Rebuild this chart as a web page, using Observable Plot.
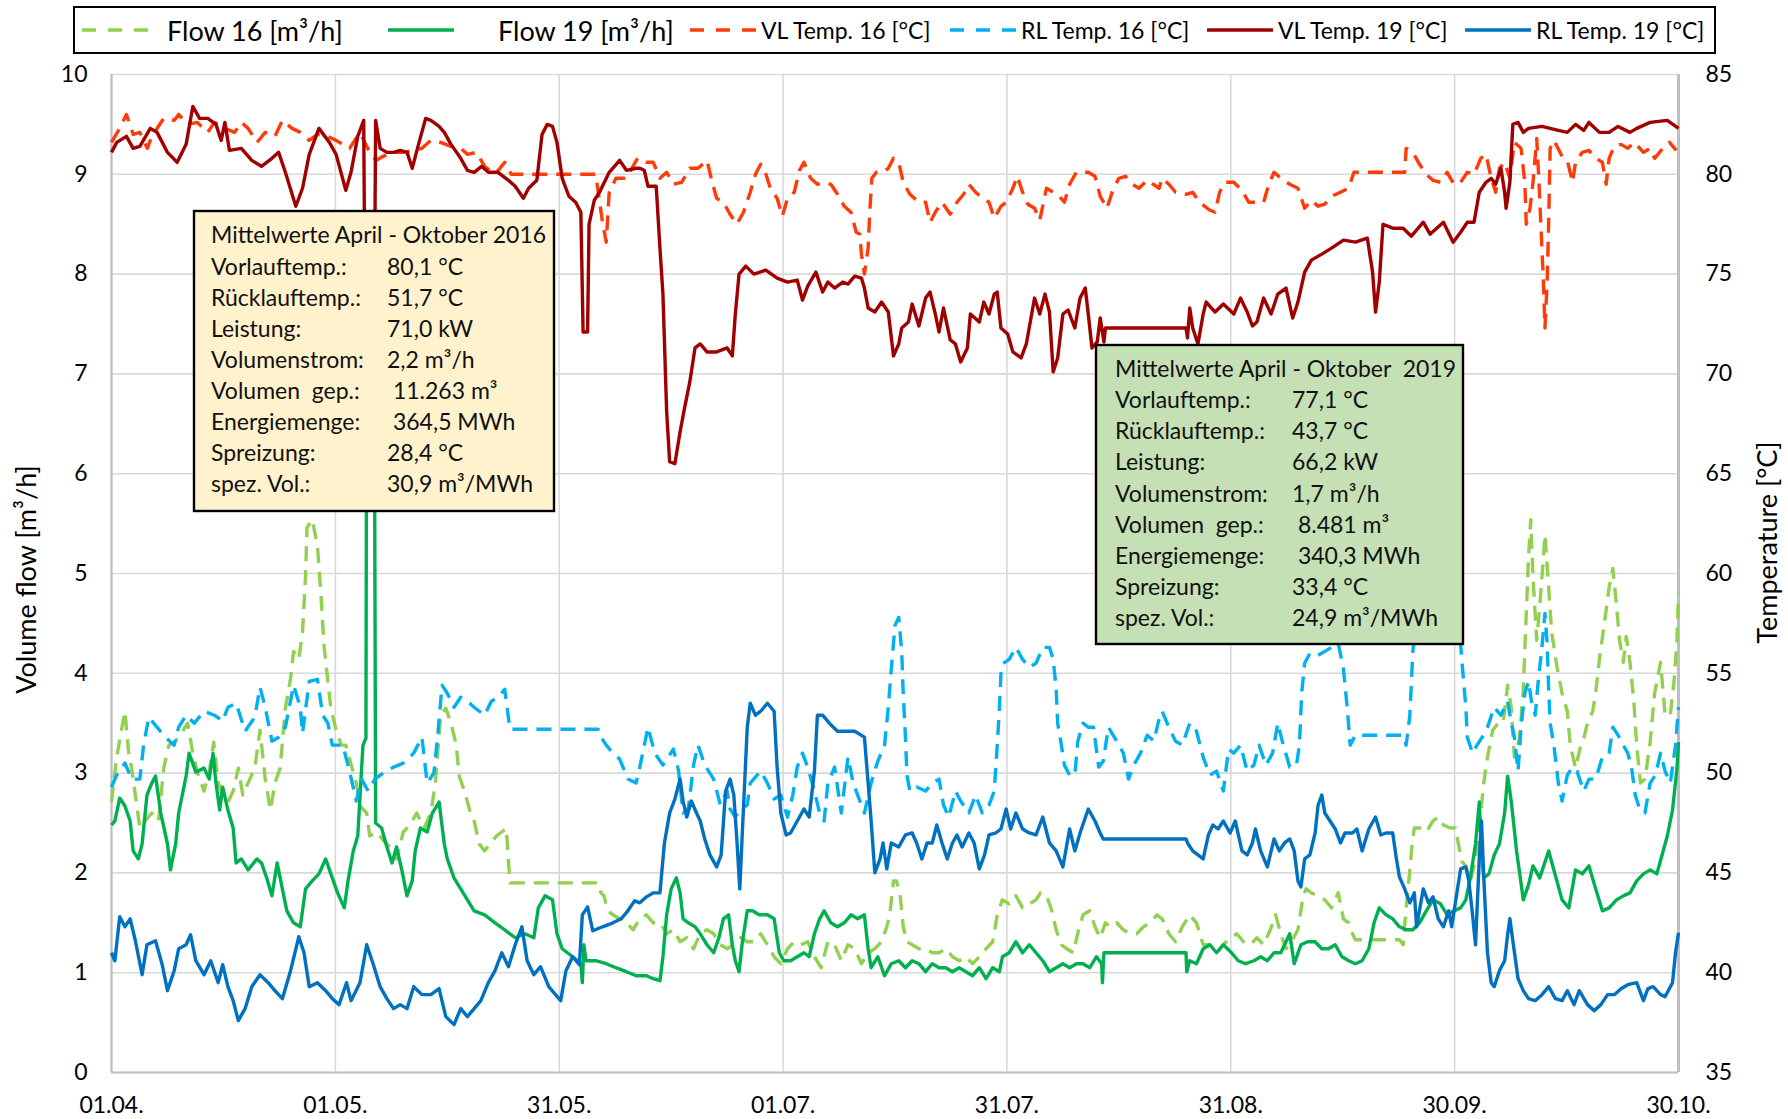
<!DOCTYPE html>
<html><head><meta charset="utf-8">
<script src="https://cdn.jsdelivr.net/npm/d3@7"></script>
<script src="https://cdn.jsdelivr.net/npm/@observablehq/plot@0.6"></script>
<style>
html,body{margin:0;padding:0;background:#fff;}
#wrap{position:relative;width:1788px;height:1119px;overflow:hidden;font-family:Lato,"Liberation Sans",sans-serif;color:#000;}
#legend{position:relative;width:1788px;height:60px;}
#lgframe{position:absolute;left:73px;top:6px;width:1643px;height:48px;border:2px solid #000;box-sizing:border-box;}
.lgitem{position:absolute;top:0;height:60px;display:flex;align-items:center;white-space:pre;}
.lgitem svg{display:block;margin-right:0;}
.axtitle{position:absolute;white-space:pre;transform-origin:center center;}
.note{position:absolute;overflow:visible;}
.note text{font-family:Lato,"Liberation Sans",sans-serif;font-size:23px;fill:#111;white-space:pre;}
</style>
</head><body>
<div id="wrap">
  <div id="legend"><div id="lgframe"></div></div>
  <div id="chart"></div>
</div>
<script>
// ---------------- ticks / labels ----------------
const xTicks = [0, 30, 60, 90, 120, 150, 180, 210];
const xLabels = ["01.04.", "01.05.", "31.05.", "01.07.", "31.07.", "31.08.", "30.09.", "30.10."];
const flowTicks = [0, 1, 2, 3, 4, 5, 6, 7, 8, 9, 10];
const tempTicks = [35, 40, 45, 50, 55, 60, 65, 70, 75, 80, 85];
const leftTitle = "Volume flow [m³/h]";
const rightTitle = "Temperature [°C]";

// ---------------- series (day since 01.04., value) ----------------
const flow16 = [[0,2.71],[0.7,3.16],[1.4,3.46],[1.8,3.62],[2.3,3.2],[2.7,3.05],[3.4,2.67],[3.8,2.45],[4.5,2.52],[5.4,2.6],[6.3,2.52],[7,3.05],[7.7,3.28],[8.4,3.31],[9.3,3.39],[10.2,3.5],[10.9,3.2],[11.5,3.01],[12.4,2.82],[13.1,3.01],[13.7,3.31],[14.3,2.9],[14.9,2.78],[15.6,2.71],[16.3,2.82],[17,3.05],[17.6,2.78],[18.3,2.9],[19.2,3.05],[19.9,3.43],[20.6,2.94],[21.3,2.63],[21.9,2.9],[22.6,3.05],[23.3,3.65],[24,3.95],[24.4,4.22],[25.1,4.14],[25.6,4.41],[26,4.97],[26.2,5.46],[26.9,5.54],[27.6,5.28],[28.1,4.75],[28.5,4.26],[29,3.92],[29.4,3.65],[30.1,3.43],[30.8,3.28],[31.4,3.28],[32.1,3.09],[32.8,2.9],[33.3,2.67],[34.2,2.6],[34.6,2.37],[35.5,2.41],[36.4,2.33],[37.3,2.26],[38.2,2.14],[39.1,2.41],[40,2.48],[40.9,2.6],[41.9,2.45],[42.8,2.6],[43.4,2.9],[44.1,3.58],[44.8,3.65],[45.5,3.5],[46.2,3.28],[46.6,2.97],[47.3,2.82],[48,2.63],[48.6,2.52],[49.3,2.29],[50,2.22],[50.7,2.29],[51.6,2.37],[52.3,2.41],[52.9,2.45],[53.4,1.9],[65.2,1.9],[65.6,1.8],[66,1.77],[66.5,1.62],[67.2,1.58],[68.1,1.54],[69,1.5],[69.9,1.43],[70.8,1.54],[71.7,1.58],[72.6,1.5],[73.5,1.5],[74.4,1.39],[75.3,1.43],[76.2,1.31],[77.1,1.35],[78,1.24],[78.9,1.39],[79.8,1.43],[80.7,1.39],[81.6,1.28],[82.5,1.24],[83.4,1.28],[84.3,1.35],[85.2,1.31],[86.1,1.31],[87,1.39],[87.9,1.28],[88.8,1.16],[89.7,1.09],[90.6,1.24],[91.5,1.31],[92.4,1.28],[93.3,1.31],[94.2,1.16],[95.1,1.05],[96,1.31],[96.9,1.28],[97.8,1.12],[98.7,1.28],[99.6,1.24],[100.5,1.09],[101.4,1.2],[102.3,1.24],[103.2,1.31],[103.9,1.46],[104.3,1.58],[104.8,1.92],[105.2,1.92],[105.7,1.77],[106.1,1.46],[106.6,1.31],[107.3,1.28],[108.2,1.24],[109.1,1.24],[110,1.2],[110.9,1.2],[111.8,1.24],[112.7,1.16],[113.6,1.12],[114.5,1.16],[115.4,1.09],[116.3,1.16],[117.2,1.24],[118.1,1.31],[118.7,1.58],[119.4,1.73],[120.3,1.69],[121.2,1.77],[122.1,1.65],[123,1.69],[123.9,1.73],[124.5,1.8],[125.3,1.77],[125.9,1.65],[126.6,1.43],[127.3,1.28],[128,1.24],[128.9,1.2],[129.6,1.43],[130.2,1.58],[131.1,1.62],[131.8,1.46],[132.5,1.35],[133.2,1.5],[133.8,1.46],[134.7,1.5],[135.6,1.43],[136.5,1.39],[137.4,1.39],[138.3,1.46],[139.2,1.5],[140.1,1.58],[140.8,1.54],[141.7,1.39],[142.6,1.31],[143.5,1.46],[144.5,1.58],[145.4,1.5],[146.3,1.28],[147.2,1.28],[148.1,1.2],[149,1.28],[149.9,1.35],[150.8,1.39],[151.7,1.31],[152.6,1.28],[153.5,1.35],[154.4,1.28],[155.3,1.43],[156,1.58],[156.7,1.39],[157.4,1.24],[158.1,1.31],[159,1.43],[159.7,1.77],[160.1,1.84],[160.8,1.8],[161.7,1.77],[162.6,1.73],[163.5,1.65],[164.4,1.8],[165.1,1.54],[165.8,1.5],[166.3,1.39],[166.7,1.33],[172.6,1.33],[173.1,1.28],[173.5,1.65],[174,2.03],[174.3,2.29],[174.6,2.45],[175.3,2.45],[176.2,2.41],[177.1,2.52],[177.8,2.56],[178.5,2.48],[179.4,2.45],[180.1,2.45],[180.5,2.29],[181,2.11],[181.5,2.07],[182.1,1.92],[182.8,2.14],[183.5,2.6],[183.9,2.9],[184.4,3.16],[185.1,3.43],[185.8,3.5],[186.5,3.5],[187.1,3.88],[187.6,3.65],[188,3.16],[188.7,3.35],[189.2,3.84],[189.6,4.6],[189.9,5.16],[190.2,5.54],[190.5,4.97],[191,4.33],[191.4,4.67],[191.9,5.16],[192.1,5.39],[192.6,4.86],[193,4.41],[193.7,4.07],[194.4,3.8],[195.1,3.62],[195.5,3.28],[196.2,3.05],[196.9,3.28],[197.3,3.35],[197.8,3.5],[198.5,3.62],[198.9,3.8],[199.4,4.14],[200.1,4.52],[200.7,4.86],[201.2,5.05],[201.7,4.67],[202.1,4.33],[202.6,4.11],[203,4.37],[203.5,4.11],[204,3.73],[204.4,3.28],[204.9,2.9],[205.5,2.94],[206.2,3.31],[206.8,3.8],[207.6,4.11],[208.2,3.58],[208.9,3.58],[209.4,3.92],[209.8,4.33],[210,4.8]];

const flow19 = [[0,2.48],[0.45,2.52],[1.1,2.75],[1.8,2.67],[2.5,2.52],[2.9,2.22],[3.6,2.14],[4.1,2.29],[4.75,2.78],[5.4,2.9],[5.9,2.97],[6.6,2.6],[7.5,2.29],[7.9,2.03],[8.6,2.29],[9,2.6],[10,2.97],[10.4,3.2],[11.3,3.01],[12.4,3.05],[13.1,2.94],[13.6,3.2],[14,2.9],[14.5,2.63],[14.9,2.86],[15.6,2.63],[16.3,2.45],[16.7,2.1],[17.4,2.14],[18.3,2.03],[19.5,2.14],[20.1,2.1],[20.8,1.95],[21.5,1.77],[22.2,2.1],[22.9,1.84],[23.5,1.62],[24.4,1.5],[25.3,1.46],[26,1.84],[26.9,1.92],[27.8,1.99],[28.7,2.14],[29.4,1.99],[30.3,1.8],[31.2,1.65],[31.7,1.92],[32.4,2.22],[33,2.37],[33.7,3.28],[34.1,3.35],[34.2,7.5],[35.2,7.5],[35.4,2.5],[36.2,2.45],[36.9,2.26],[37.6,2.1],[38.2,2.26],[38.9,2.03],[39.6,1.77],[40.3,1.92],[40.7,2.22],[41.4,2.45],[42.3,2.41],[43,2.6],[43.9,2.71],[44.6,2.29],[45,2.14],[45.9,1.95],[46.8,1.84],[47.7,1.73],[48.6,1.62],[50,1.58],[51.4,1.5],[52.7,1.43],[54.1,1.35],[55.4,1.39],[56.6,1.35],[57.2,1.65],[58.1,1.77],[59.1,1.73],[59.7,1.39],[60.4,1.24],[61.8,1.16],[62.9,1.09],[63.1,0.9],[63.3,1.28],[63.6,1.12],[64.9,1.12],[66.3,1.09],[67.6,1.05],[69,1.01],[70.3,0.97],[70.8,0.97],[71.7,0.97],[72.6,0.94],[73.5,0.92],[73.9,1.16],[74.4,1.58],[75,1.84],[75.7,1.95],[76.2,1.8],[76.6,1.54],[77.3,1.5],[78.2,1.46],[78.9,1.39],[79.8,1.28],[80.7,1.2],[81.4,1.35],[82,1.54],[82.7,1.58],[83.2,1.28],[83.6,1.12],[84.1,1.01],[84.5,1.28],[85.2,1.62],[85.9,1.62],[86.8,1.58],[87.9,1.58],[88.8,1.54],[89.5,1.2],[90.1,1.12],[91,1.12],[91.9,1.16],[92.8,1.2],[93.5,1.16],[94.2,1.39],[94.9,1.54],[95.5,1.62],[96.4,1.5],[97.3,1.46],[98.2,1.5],[99.1,1.58],[100,1.54],[100.9,1.58],[101.4,1.24],[101.8,1.05],[102.7,1.16],[103.6,0.97],[104.5,1.09],[105.5,1.12],[106.4,1.05],[107.3,1.12],[108.2,1.09],[109.1,1.01],[110,1.09],[110.9,1.05],[111.8,1.05],[112.7,1.01],[113.6,1.05],[114.5,1.01],[115.4,0.97],[116.3,1.05],[117.2,0.94],[118.1,1.05],[119,1.01],[119.4,1.16],[120.3,1.2],[121.2,1.31],[122.1,1.2],[123,1.28],[123.9,1.2],[124.8,1.12],[125.7,1.01],[126.6,1.05],[127.5,1.09],[128.4,1.05],[129.3,1.09],[130.2,1.09],[131.1,1.05],[132,1.16],[132.7,1.09],[132.8,0.9],[133,1.2],[144,1.2],[144.1,1.01],[144.5,1.12],[145.4,1.09],[146.3,1.24],[147.2,1.28],[148.1,1.2],[149,1.28],[150.1,1.2],[151,1.12],[152,1.09],[153.1,1.12],[154,1.16],[154.9,1.12],[155.8,1.2],[156.7,1.2],[157.9,1.39],[158.5,1.09],[159.4,1.28],[160.3,1.31],[161.3,1.31],[162.2,1.24],[163.1,1.24],[164,1.28],[164.9,1.16],[165.8,1.12],[166.7,1.09],[167.6,1.12],[168.5,1.24],[169.2,1.5],[169.9,1.65],[170.8,1.58],[171.7,1.54],[172.6,1.46],[173.5,1.43],[174.4,1.43],[175.3,1.5],[176.2,1.62],[177.1,1.73],[178.1,1.69],[179,1.58],[179.9,1.62],[180.8,1.65],[181.5,1.73],[182.1,1.95],[182.8,2.29],[183.3,2.71],[183.6,2.22],[183.9,1.95],[184.6,1.99],[185.3,2.18],[186,2.29],[186.7,2.6],[187.1,2.97],[187.6,2.71],[188.3,2.22],[189.2,1.73],[189.9,1.88],[190.5,2.07],[191.4,1.95],[192.6,2.22],[193.7,1.92],[194.4,1.73],[195.3,1.65],[196.2,2.03],[197.1,1.99],[198,2.07],[198.9,1.84],[199.8,1.62],[200.7,1.65],[201.7,1.73],[202.6,1.77],[203.5,1.8],[204.4,1.92],[205.3,1.99],[206.2,2.03],[207.1,1.99],[207.8,2.18],[208.5,2.37],[209.2,2.63],[209.8,3.05],[210,3.31]];

const vlTemp16 = [[0,81.6],[1.1,82.3],[2,83],[2.9,82],[3.8,82.1],[4.8,81.3],[5.4,81.9],[7,82.8],[8.4,82.7],[9,83],[10.2,82.5],[11.5,82.6],[12.9,82.1],[13.8,82.6],[15.2,82.3],[16.5,82.1],[17.4,82.6],[18.3,82.3],[19.5,81.6],[20.6,82.1],[21.9,81.9],[22.9,82.7],[24.2,82.3],[25.3,82.1],[26.5,81.7],[27.6,82],[29,81.9],[30.1,81.7],[31.9,81.3],[33.3,82.1],[34.6,81.1],[35.5,80.7],[36.4,80.9],[37.8,81.1],[39.1,81.1],[40.5,81.2],[41.6,81.3],[42.8,81.7],[44.1,81.6],[45.5,81.4],[46.8,81.3],[47.7,81],[48.9,81.1],[50,80.4],[51.4,80],[52.7,80.6],[53.6,80],[55,80],[64.9,80],[65.8,77.6],[66.3,76.6],[66.7,79.1],[67.6,79.8],[69,79.8],[70.5,80.8],[71.7,80.6],[72.6,80.6],[73.5,79.8],[74.4,80.1],[75.3,79.5],[76.4,79.6],[77.5,80.3],[78.6,80.3],[79.8,80.7],[80.5,79.6],[81.1,78.8],[82,78.6],[82.9,78],[83.8,77.5],[84.7,78.1],[85.6,79.1],[86.3,80],[87,80.5],[87.7,80],[88.3,79.3],[89.2,78.8],[89.9,77.9],[90.6,78.8],[91.5,79.1],[92.2,80.2],[92.8,80.6],[93.7,79.8],[94.6,79.5],[95.5,79.6],[96.4,79.5],[97.3,79],[98.2,78.4],[99.1,78.1],[99.8,77.1],[100.3,77],[100.5,76],[100.9,75],[101.4,76.3],[101.6,78],[101.9,79.8],[102.5,80.1],[103.4,80.1],[104.1,80.3],[104.8,80.8],[105.5,80.6],[106.1,79.6],[107,79],[108.2,78.6],[109.1,78.6],[109.7,77.6],[110.4,78.1],[111.3,78.6],[112.4,78],[113.3,78.6],[114.2,79],[114.9,79.5],[115.8,79.1],[116.7,78.8],[117.6,78.6],[118.3,77.8],[119.2,78.4],[119.9,78.6],[120.8,79.3],[121.4,79.9],[122.1,79.1],[122.8,78.5],[123.7,78.3],[124.4,77.7],[125.3,79.3],[126.2,79.1],[126.8,79],[127.7,78.6],[128.4,79.5],[129.3,80.1],[130.2,80.1],[130.9,80.1],[131.8,79.9],[132.5,78.9],[133.4,78.3],[134.1,79.1],[135,79.8],[135.9,79.9],[136.8,79.5],[137.7,79.3],[138.8,79.7],[140.4,79.3],[140.8,79.8],[141.7,79.5],[142.6,79.1],[144,79],[144.9,79.1],[145.8,78.6],[147.2,78.2],[147.9,78.1],[148.5,79.1],[149.2,79.6],[150.4,79.6],[151.5,79.2],[152.4,78.6],[153.5,78.6],[154.4,78.6],[155.1,79.5],[155.8,80.1],[156.7,79.8],[157.9,79.5],[159,79.3],[159.9,78.3],[160.8,78.7],[161.7,78.4],[162.6,78.5],[163.5,78.9],[164.7,79.1],[165.8,79.3],[166.5,80.1],[173.3,80.1],[173.5,81.3],[174.4,81.1],[175.3,80.5],[176.2,80],[177.1,79.7],[178.1,79.6],[179,80.1],[179.9,79.5],[180.8,79.6],[181.7,80.1],[182.6,80],[183.5,80.8],[184.2,81],[184.9,79.8],[185.5,79.1],[186,80.3],[186.7,80.6],[187.4,79.8],[188,81.6],[188.9,81.3],[189.4,79.6],[189.6,77.5],[190.1,78.3],[190.5,79.6],[191,81.8],[191.3,79.6],[191.6,77.1],[191.9,74.6],[192.1,72.3],[192.4,74.6],[192.6,77.6],[192.8,81.3],[193.3,81.7],[194.4,80.9],[195.1,80.7],[195.8,79.6],[196.2,80.6],[197.1,81.1],[198,81.2],[198.9,80.8],[199.8,80.6],[200.3,79.5],[200.7,80.8],[201.4,81.4],[202.3,81.5],[203.2,81.3],[204.1,81.6],[205.3,81.1],[206.2,81.3],[206.8,80.8],[207.9,81.3],[208.8,81.6],[209.7,81.2]];

const rlTemp16 = [[0,49.3],[0.7,49.9],[1.8,50.5],[2.7,49.7],[3.8,49.7],[4.3,51.4],[5,52.8],[6.1,52.3],[7.2,51.8],[8.4,51.4],[9,52.3],[10,52.9],[11.1,52.5],[12.4,53.1],[13.8,52.9],[14.9,52.6],[15.6,53.3],[16.7,53.5],[17.9,52.1],[19.2,52.8],[19.9,54.3],[20.6,53.3],[21.5,51.6],[22.4,51.8],[23.3,52.3],[24.4,54.4],[25.3,53.3],[25.6,52],[26.5,54.6],[27.6,54.7],[28.3,52.9],[29,52.5],[29.6,51.4],[31,51.4],[31.9,50.1],[32.8,48.6],[33.5,49.7],[34.4,49.1],[35.3,49.7],[36.4,50],[37.8,50.3],[39.1,50.5],[40.5,51],[41.6,51.8],[42.3,49.5],[43.2,50],[43.7,51.8],[44.3,54.4],[45,54],[45.9,53.3],[46.8,53.8],[47.7,53.6],[48.6,53.3],[50,52.9],[50.9,53.6],[51.8,53.8],[52.7,54.2],[53.4,52.2],[65.2,52.2],[65.6,51.8],[66.3,51.4],[67.2,51],[68.1,50.7],[69.2,49.7],[70.3,49.5],[70.8,50.3],[71.9,52.3],[72.8,51],[73.9,50.4],[75.3,51.2],[76,50.1],[76.6,48],[77.3,48.2],[78,50.4],[78.6,51.4],[79.5,50.4],[80.7,49.7],[81.6,48.4],[82.5,49.1],[82.9,48.2],[83.6,47.8],[84.3,48.2],[85.2,48.4],[85.6,49.5],[87,50.1],[87.9,49.5],[88.8,48.7],[89.7,48.9],[90.6,47.8],[91.3,48.9],[91.9,50.3],[92.6,51],[93.3,50.3],[94.2,49.1],[94.9,48],[95.5,47.6],[96,49.5],[96.9,50.3],[97.8,48],[98.7,50.8],[99.4,49.5],[100,48.9],[100.9,48],[101.8,49.5],[102.7,50.6],[103.6,51.4],[104.1,53.3],[104.5,55.2],[105,57.4],[105.5,57.8],[105.9,56.1],[106.1,54],[106.4,51.8],[106.6,49.9],[107,49.1],[107.9,49.3],[109.1,49.1],[110,49.5],[110.9,49.7],[111.5,48.4],[112.2,47.8],[113.1,49.1],[113.8,48.6],[114.9,48],[115.8,48.9],[116.7,48],[117.6,48.4],[118.3,49.1],[118.7,51.4],[119,53.3],[119.2,55],[119.5,55.5],[120.3,55.7],[121.2,56.3],[122.1,55.7],[123,55.3],[123.9,55.5],[124.8,56.3],[125.7,56.3],[126.2,55.7],[126.6,54.2],[126.8,52.5],[127.3,51.4],[127.7,50.4],[128.4,49.9],[129.1,49.9],[129.5,51.6],[130.2,52.5],[130.9,52.3],[131.6,52.3],[132.3,50.3],[132.9,50.6],[133.6,52.3],[134.7,51.6],[135.6,51],[136.3,49.7],[137,50.4],[137.9,51],[138.8,51.9],[139.7,51.6],[140.5,52.9],[140.8,53.1],[141.7,52.3],[142.6,51.6],[143.5,51.4],[144.5,52.5],[145.4,52.1],[146.3,50.8],[147.2,49.9],[148.1,50.1],[149,49.1],[149.7,51.2],[150.4,51],[151.3,51.4],[152.2,50.1],[153.1,50.4],[153.8,51.4],[154.7,50.4],[155.6,51],[156.3,52.5],[156.9,51.6],[157.9,50.3],[158.8,50.4],[159.2,51.4],[159.5,54],[159.9,55.5],[160.6,56],[161.7,55.9],[162.6,56.1],[163.5,56.3],[164.4,56.5],[165.1,55.2],[165.6,53.3],[166,51.4],[166.7,51.9],[173.1,51.9],[173.5,51.4],[174,52.9],[174.4,56.1],[175,58.5],[178.5,58.5],[180.5,58],[181,55.5],[181.5,53.3],[181.7,51.8],[182.4,51],[183,51.4],[183.7,51.8],[184.4,52.3],[185.3,53.3],[186.2,52.9],[187.1,53.6],[187.6,52.5],[188,51.8],[188.5,50.1],[188.9,52.3],[189.4,54],[189.9,54.6],[190.3,53.6],[190.8,52.9],[191.2,54.6],[191.7,56.3],[192.1,58],[192.4,56.5],[192.6,54.2],[192.8,52.5],[193.3,51.4],[193.9,49.5],[194.4,48.6],[195.1,49.9],[195.8,50.3],[196.4,50.1],[197.3,49.1],[198,49.7],[198.9,49.7],[199.8,50.8],[200.7,51],[201.2,52.3],[201.9,51.9],[202.6,51.4],[203.2,51],[203.7,50.3],[204.2,48.9],[204.8,48.2],[205.5,48],[206.2,49.5],[206.9,49.9],[207.6,51],[208.2,50.1],[208.9,49.5],[209.6,51.4],[210,53.3]];

const vlTemp19 = [[0,81.1],[0.7,81.6],[2,81.9],[2.9,81.3],[3.8,81.4],[5.2,82.3],[6.1,82.1],[7.5,81.1],[8.8,80.6],[10,81.5],[10.9,83.4],[11.8,82.8],[12.9,82.8],[14,82.5],[14.7,81.7],[15.2,82.6],[15.8,81.2],[17.4,81.3],[18.8,80.7],[20.1,80.4],[21.5,80.8],[22.4,81.1],[23.3,80.1],[24.7,78.4],[25.6,79.3],[26.5,81],[27.8,82.3],[29.2,81.6],[30.1,81],[31.4,79.2],[32.1,80.1],[33,81.9],[33.8,82.7],[34.1,66],[35.1,66],[35.4,82.7],[36,81.3],[36.9,81.1],[37.8,81.1],[38.7,81.2],[39.6,81.1],[40.3,80.3],[41,81.3],[42.1,82.8],[42.8,82.7],[43.9,82.4],[44.6,82.1],[45.5,81.5],[46.8,80.8],[47.7,80.2],[48.6,80.1],[49.6,80.4],[50.5,80.1],[51.8,80.1],[53.2,79.7],[54.1,79.4],[55.2,78.8],[55.9,79.3],[57,79.7],[57.7,82],[58.4,82.5],[59.1,82.4],[59.7,81.6],[60.4,79.8],[61.3,78.9],[62.2,78.6],[62.9,78.1],[63.2,72.1],[63.8,72.1],[64,77.5],[64.7,78.7],[65.4,79.1],[66.7,80.1],[68.1,80.7],[69,80.2],[70.3,80.3],[70.8,80.3],[71.4,80.2],[71.9,79.4],[73,79.4],[73.5,76.3],[73.9,74],[74.4,68.1],[74.8,65.6],[75.5,65.5],[76.2,67.1],[76.8,68.3],[77.5,69.6],[78.2,71.3],[78.9,71.5],[79.8,71.1],[81.1,71.1],[82.5,71.3],[83.2,70.9],[83.6,73],[84.1,75],[85,75.4],[86.1,75],[87.7,75.2],[89.2,74.8],[90.6,74.6],[91.9,74.7],[92.6,73.7],[93.3,74.4],[94.4,75.1],[95.3,74.1],[96,74.6],[96.9,74.3],[98,74.6],[98.7,74.5],[99.6,74.9],[100.5,74.8],[100.9,74.3],[101.4,73.3],[102.3,73.1],[103.2,73.6],[104.1,73.1],[104.8,70.9],[105.5,71.5],[105.9,72.3],[106.8,72.6],[107.3,73.5],[108.2,72.4],[109.1,73.8],[109.7,74.1],[110.4,73],[110.9,72.1],[111.5,73.3],[112.4,71.7],[113.1,71.5],[113.8,70.6],[114.7,71.3],[115.1,73],[116.3,72.6],[116.9,73.6],[117.6,73],[118.3,74],[118.7,74.1],[119.2,72.3],[120.1,72],[120.8,71.1],[121.9,70.8],[122.6,71.5],[123.7,73.8],[124.4,73],[125.1,74],[125.7,73.1],[126.2,70.1],[126.8,70.8],[127.5,73],[128.2,73.2],[129.1,72.3],[129.8,73.8],[130.5,74.3],[130.9,73],[131.4,71.3],[132.1,71.6],[132.5,72.8],[133,71.6],[133.2,72.3],[144,72.3],[144.2,71.8],[144.5,73.3],[144.9,72.3],[145.6,71.5],[146.3,73],[146.7,73.6],[147.9,73.1],[149,73.5],[150.4,73],[151.3,73.8],[152.2,73.1],[152.9,72.4],[153.5,72.6],[154.4,73.8],[155.4,73],[156.3,74],[157.4,74.3],[158.3,72.8],[159,73.6],[159.9,75.1],[160.8,75.7],[162.2,76],[163.5,76.3],[165.1,76.7],[166.7,76.6],[168.3,76.8],[169,75.1],[169.4,73.1],[169.9,74.6],[170.4,77.5],[171.7,77.3],[173.1,77.3],[174.2,76.9],[175.8,77.6],[176.7,77],[178.5,77.6],[179.8,76.6],[180.8,77.1],[181.7,77.6],[182.6,77.6],[183.3,79.1],[184.2,79.6],[184.9,79.8],[185.5,79.5],[186.2,80.3],[186.7,79.1],[186.9,78.3],[187.4,79.6],[187.8,82.5],[188.5,82.6],[189.2,82.1],[189.9,82.3],[191.7,82.4],[193.9,82.2],[195.1,82.1],[196.2,82.5],[197.3,82.2],[198,82.6],[199.4,82.1],[200.7,82.1],[201.9,82.4],[203.5,82.1],[204.4,82.3],[206.2,82.6],[208.5,82.7],[210,82.3]];

const rlTemp19 = [[0,41],[0.45,40.6],[1.1,42.8],[1.8,42.3],[2.5,42.7],[3.2,41.6],[4.1,39.9],[4.75,41.4],[5.9,41.6],[6.8,40.4],[7.5,39.1],[8.4,40.1],[9,41.2],[10,41.4],[10.6,41.9],[11.3,40.6],[12.4,39.9],[13.3,40.6],[14.3,39.5],[14.9,40.4],[15.6,39.3],[16.3,38.6],[17,37.6],[17.9,38.2],[18.8,39.3],[19.9,39.9],[21,39.5],[21.9,39.1],[22.9,38.7],[24,40.1],[25.1,41.8],[25.8,41],[26.5,39.3],[27.6,39.5],[28.7,39.1],[29.6,38.7],[30.5,38.4],[31.5,39.5],[32.1,38.6],[33.3,39.5],[34.2,41.4],[35.1,40.4],[36,39.3],[36.9,38.7],[37.8,38.2],[38.7,38.4],[39.6,38.2],[40.5,39.3],[41.6,38.9],[42.8,38.9],[43.9,39.2],[44.8,37.8],[45.9,37.4],[46.8,38.2],[47.7,37.8],[48.6,38.2],[49.5,38.6],[50.5,39.5],[51.4,40.1],[52.3,41],[53.2,40.3],[54.1,41.4],[55,42.3],[55.7,40.6],[56.6,39.9],[57.5,40.3],[58.6,39.3],[59.5,38.9],[60.2,38.6],[60.9,40.1],[61.8,40.8],[62.7,40.4],[63.1,42.9],[63.8,43.3],[64.5,42.1],[65.8,42.3],[67.2,42.5],[68.3,42.7],[69.2,43.1],[70.1,43.6],[70.8,43.5],[71.7,43.8],[72.6,44],[73.5,44],[74.1,46.5],[74.8,48],[75.5,48.7],[76.2,49.7],[76.6,48.6],[77.1,47.8],[77.7,48.6],[78.4,48],[78.9,47.6],[79.5,46.7],[80.2,45.9],[81.1,45.3],[81.7,45.9],[82.3,49.1],[82.9,49.7],[83.4,48.9],[83.8,46.7],[84.2,44.2],[84.5,46.7],[85.2,52.3],[85.6,53.5],[86.3,52.9],[87,53.1],[87.9,53.5],[88.8,53.1],[89.2,50.3],[89.7,48],[90.4,46.9],[91,47],[91.9,47.6],[92.8,48.2],[93.5,47.8],[94.2,50.1],[94.6,52.9],[95.3,52.9],[96.2,52.5],[97.3,52.1],[98.2,52.1],[99.6,52.1],[100.9,51.8],[101.4,49.5],[101.8,47.6],[102.3,45],[103,45.7],[103.4,46.5],[103.9,45.2],[104.5,46.5],[105.5,46.3],[106.4,46.9],[107.3,47],[107.9,46.5],[108.6,45.7],[109.3,46.5],[110,46.5],[110.6,47.4],[111.3,46.5],[112,45.7],[112.7,46.5],[113.3,46.9],[114,46.3],[114.9,47],[115.6,46.5],[116.3,45.2],[117,45.9],[117.6,46.9],[118.5,47],[119.2,47.2],[119.9,48.2],[120.5,47.2],[121.2,48],[122.1,47.2],[123,47],[123.9,46.9],[124.8,47.8],[125.7,46.5],[126.6,46.1],[127.5,45.3],[128.4,47.2],[129.1,46.1],[129.8,47],[130.9,48.2],[131.8,47.6],[132.5,47],[132.9,46.7],[144,46.7],[144.2,46.5],[144.9,46.1],[145.6,45.9],[146.3,45.7],[147,46.9],[147.6,47.4],[148.3,47.2],[149,47.6],[149.9,47],[150.6,47.6],[151.5,46.1],[152.2,45.9],[152.9,46.5],[153.3,47.2],[154,46.1],[154.9,45.3],[155.8,46.7],[156.5,46.1],[157.2,46.5],[157.9,46.7],[158.5,46.1],[159,44.6],[159.4,44.3],[159.9,45.7],[160.6,45.9],[161.3,47],[161.7,48.4],[162.2,48.9],[162.6,48],[163.3,47.6],[164,47.2],[164.7,46.5],[165.3,47],[166.3,47],[166.9,47.2],[167.6,46.1],[168.5,47.2],[169.4,47.8],[170.1,46.9],[170.8,47],[171.7,47],[172.2,45.7],[172.6,44.8],[173.3,44.2],[174,43.5],[174.6,44],[174.9,42.3],[175.8,44.2],[176.5,43.5],[177.1,43.8],[177.8,42.7],[178.5,42.3],[179.2,43.1],[179.6,42.3],[180.1,43.5],[180.8,45.2],[181.5,45.3],[181.9,44.6],[182.4,42.9],[182.8,41.4],[183.3,45.7],[183.6,47.6],[183.9,44.8],[184.4,41],[184.9,39.5],[185.3,39.3],[186,40.1],[186.7,40.6],[187.1,41.9],[187.4,42.7],[187.8,41.6],[188.5,39.7],[189.2,39.1],[189.9,38.7],[190.8,38.6],[191.7,38.9],[192.6,39.3],[193.5,38.7],[194.4,38.6],[195.1,39.1],[196,38.4],[196.7,39.1],[197.8,38.4],[198.7,38.1],[199.6,38.4],[200.5,38.9],[201.4,38.9],[202.3,39.2],[203.2,39.4],[204.4,39.5],[205.3,38.6],[205.9,39.2],[206.6,39.3],[207.6,38.9],[208.2,38.8],[209.2,39.5],[209.6,41],[210,42]];

// ---------------- annotation texts ----------------
const box2016Title = "Mittelwerte April - Oktober 2016";
const box2016Labels = ["Vorlauftemp.:", "Rücklauftemp.:", "Leistung:", "Volumenstrom:", "Volumen  gep.:", "Energiemenge:", "Spreizung:", "spez. Vol.:"];
const box2016Values = ["80,1 °C", "51,7 °C", "71,0 kW", "2,2 m³/h", " 11.263 m³", " 364,5 MWh", "28,4 °C", "30,9 m³/MWh"];
const box2019Title = "Mittelwerte April - Oktober  2019";
const box2019Labels = ["Vorlauftemp.:", "Rücklauftemp.:", "Leistung:", "Volumenstrom:", "Volumen  gep.:", "Energiemenge:", "Spreizung:", "spez. Vol.:"];
const box2019Values = ["77,1 °C", "43,7 °C", "66,2 kW", "1,7 m³/h", " 8.481 m³", " 340,3 MWh", "33,4 °C", "24,9 m³/MWh"];

// ---------------- styles ----------------
const seriesDefs = [
  {name: "Flow 16 [m³/h]", data: flow16, axis: "flow", color: "#92D050", dash: "15,9", big: true},
  {name: "Flow 19 [m³/h]", data: flow19, axis: "flow", color: "#00B050", dash: null, big: true},
  {name: "VL Temp. 16 [°C]", data: vlTemp16, axis: "temp", color: "#FF3B0A", dash: "15,9"},
  {name: "RL Temp. 16 [°C]", data: rlTemp16, axis: "temp", color: "#00B0F0", dash: "15,9"},
  {name: "VL Temp. 19 [°C]", data: vlTemp19, axis: "temp", color: "#A00000", dash: null},
  {name: "RL Temp. 19 [°C]", data: rlTemp19, axis: "temp", color: "#0070C0", dash: null}
];
const legendX = [82, 388, 690, 950, 1207, 1465];
const legendGap = ["19px", "44px", "5px", "5px", "5px", "5px"];

// right axis (temperature) is mapped onto the left (flow) scale: 35..85 °C <-> 0..10 m³/h
const tempToFlowUnits = t => (t - 35) / 5;

const grid = "#d9d9d9";
const axisGray = "#bfbfbf";

const marks = [
  Plot.gridY(flowTicks, {stroke: grid, strokeOpacity: 1, strokeWidth: 1.6}),
  Plot.gridX(xTicks, {stroke: grid, strokeOpacity: 1, strokeWidth: 1.6}),
  Plot.ruleX([0], {stroke: axisGray, strokeWidth: 2.2}),
  Plot.ruleX([210], {stroke: axisGray, strokeWidth: 3}),
  Plot.ruleY([0], {stroke: axisGray, strokeWidth: 2.2})
];
for (const s of seriesDefs) {
  marks.push(Plot.line(s.data, {
    x: d => d[0],
    y: s.axis === "temp" ? (d => tempToFlowUnits(d[1])) : (d => d[1]),
    stroke: s.color,
    strokeWidth: 3.4,
    strokeDasharray: s.dash || undefined,
    strokeLinejoin: "round",
    strokeLinecap: "butt"
  }));
}
marks.push(
  Plot.axisY(flowTicks, {anchor: "left", tickSize: 0, tickPadding: 24, fontSize: 23, label: null,
    tickFormat: d => String(d)}),
  Plot.axisY(tempTicks.map(tempToFlowUnits), {anchor: "right", tickSize: 0, tickPadding: 27, fontSize: 23, label: null,
    tickFormat: d => String(tempTicks[Math.round(d)])}),
  Plot.axisX(xTicks, {tickSize: 0, tickPadding: 24, fontSize: 23, label: null,
    tickFormat: d => xLabels[xTicks.indexOf(d)]})
);

const chart = Plot.plot({
  width: 1788,
  height: 1059,
  marginTop: 14,
  marginBottom: 47,
  marginLeft: 111,
  marginRight: 110,
  x: {domain: [0, 210], axis: null},
  y: {domain: [0, 10], axis: null},
  style: {fontFamily: "Lato, 'Liberation Sans', sans-serif", fontSize: "23px", color: "#000", background: "#fff", overflow: "visible"},
  marks
});
document.getElementById("chart").appendChild(chart);

// ---------------- legend (above the chart) ----------------
const legend = document.getElementById("legend");
seriesDefs.forEach((s, i) => {
  const item = document.createElement("div");
  item.className = "lgitem";
  item.style.left = legendX[i] + "px";
  const svgNS = "http://www.w3.org/2000/svg";
  const sw = document.createElementNS(svgNS, "svg");
  sw.setAttribute("width", 66);
  sw.setAttribute("height", 12);
  const ln = document.createElementNS(svgNS, "line");
  ln.setAttribute("x1", 0); ln.setAttribute("x2", 66);
  ln.setAttribute("y1", 6); ln.setAttribute("y2", 6);
  ln.setAttribute("stroke", s.color);
  ln.setAttribute("stroke-width", 3.6);
  if (s.dash) ln.setAttribute("stroke-dasharray", "14,12");
  sw.appendChild(ln);
  item.appendChild(sw);
  const tx = document.createElement("span");
  tx.textContent = s.name;
  tx.style.fontSize = s.big ? "27px" : "23px";
  tx.style.marginLeft = legendGap[i];
  item.appendChild(tx);
  legend.appendChild(item);
});

// ---------------- axis titles ----------------
const wrap = document.getElementById("wrap");
function addTitle(text, cx, cy) {
  const d = document.createElement("div");
  d.className = "axtitle";
  d.textContent = text;
  d.style.fontSize = "27px";
  d.style.left = "0px"; d.style.top = "0px";
  wrap.appendChild(d);
  const w = d.offsetWidth, h = d.offsetHeight;
  d.style.left = (cx - w / 2) + "px";
  d.style.top = (cy - h / 2) + "px";
  d.style.transform = "rotate(-90deg)";
}
addTitle(leftTitle, 25, 579);
addTitle(rightTitle, 1766, 542);

// ---------------- annotation boxes ----------------
function addBox(left, top, w, h, fill, title, labels, values, lx, vx, titleBase, firstBase, step) {
  const svgNS = "http://www.w3.org/2000/svg";
  const svg = document.createElementNS(svgNS, "svg");
  svg.setAttribute("class", "note");
  svg.setAttribute("width", w + 4);
  svg.setAttribute("height", h + 4);
  svg.style.left = (left - 2) + "px";
  svg.style.top = (top - 2) + "px";
  const r = document.createElementNS(svgNS, "rect");
  r.setAttribute("x", 2); r.setAttribute("y", 2);
  r.setAttribute("width", w); r.setAttribute("height", h);
  r.setAttribute("fill", fill); r.setAttribute("stroke", "#000"); r.setAttribute("stroke-width", 2.4);
  svg.appendChild(r);
  const mk = (str, x, y) => {
    const t = document.createElementNS(svgNS, "text");
    t.setAttribute("x", x + 2); t.setAttribute("y", y + 2);
    t.setAttribute("xml:space", "preserve");
    t.textContent = str;
    svg.appendChild(t);
  };
  mk(title, lx, titleBase);
  labels.forEach((l, i) => {
    mk(l, lx, firstBase + i * step);
    mk(values[i], vx, firstBase + i * step);
  });
  wrap.appendChild(svg);
}
addBox(194, 211, 360, 300, "#FFF2CC", box2016Title, box2016Labels, box2016Values, 17, 193, 32, 64, 31);
addBox(1096, 345, 367, 299, "#C5E0B4", box2019Title, box2019Labels, box2019Values, 19, 196, 32, 63, 31.2);
</script>
</body></html>
